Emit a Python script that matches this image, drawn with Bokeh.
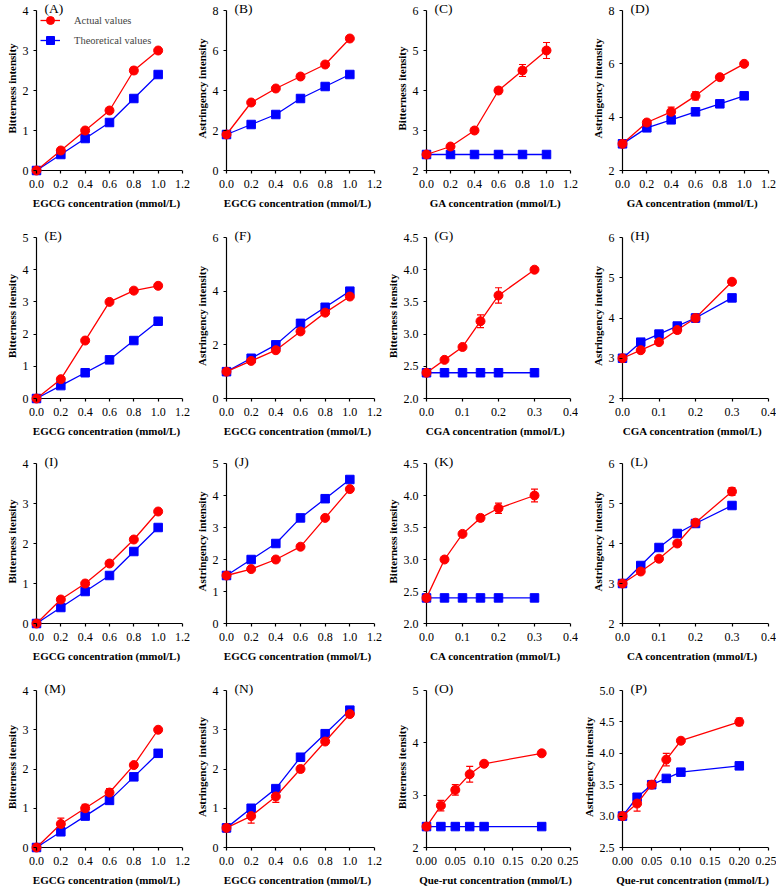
from bokeh.plotting import figure
from bokeh.layouts import gridplot
from bokeh.models import (Range1d, FixedTicker, PrintfTickFormatter, Whisker, TeeHead,
                          ColumnDataSource, Label, Legend, LegendItem)
from bokeh.embed import file_html
from bokeh.resources import INLINE

FONT = "Liberation Serif"
RED = "#FF0000"
BLUE = "#0000FF"

# concentrations
x_egcg = [0.0, 0.2, 0.4, 0.6, 0.8, 1.0]
x_cga = [0.0, 0.05, 0.1, 0.15, 0.2, 0.3]
x_ca = [0.0, 0.05, 0.1, 0.15, 0.2, 0.3]
x_querut = [0.0, 0.025, 0.05, 0.075, 0.1, 0.2]

# tick values
xt_egcg = [0.0, 0.2, 0.4, 0.6, 0.8, 1.0, 1.2]
xt_short = [0.0, 0.1, 0.2, 0.3, 0.4]
xt_querut = [0.0, 0.05, 0.1, 0.15, 0.2, 0.25]

# (A) bitterness, EGCG
A_act = [0.0, 0.5, 1.0, 1.5, 2.5, 3.0]
A_err = [0.0, 0.03, 0.05, 0.05, 0.08, 0.0]
A_theo = [0.0, 0.4, 0.8, 1.2, 1.8, 2.4]
A_yt = [0, 1, 2, 3, 4]
# (B) astringency, EGCG
B_act = [1.8, 3.4, 4.1, 4.7, 5.3, 6.6]
B_err = [0.0, 0.0, 0.0, 0.0, 0.0, 0.0]
B_theo = [1.8, 2.3, 2.8, 3.6, 4.2, 4.8]
B_yt = [0, 2, 4, 6, 8]
# (C) bitterness, GA
C_act = [2.4, 2.6, 3.0, 4.0, 4.5, 5.0]
C_err = [0.0, 0.0, 0.0, 0.08, 0.15, 0.2]
C_theo = [2.4, 2.4, 2.4, 2.4, 2.4, 2.4]
C_yt = [2, 3, 4, 5, 6]
# (D) astringency, GA
D_act = [3.0, 3.8, 4.2, 4.8, 5.5, 6.0]
D_err = [0.0, 0.05, 0.18, 0.15, 0.0, 0.0]
D_theo = [3.0, 3.6, 3.9, 4.2, 4.5, 4.8]
D_yt = [2, 4, 6, 8]
# (E) bitterness, EGCG
E_act = [0.0, 0.6, 1.8, 3.0, 3.35, 3.5]
E_err = [0.0, 0.0, 0.0, 0.0, 0.0, 0.0]
E_theo = [0.0, 0.4, 0.8, 1.2, 1.8, 2.4]
E_yt = [0, 1, 2, 3, 4, 5]
# (F) astringency, EGCG
F_act = [1.0, 1.4, 1.8, 2.5, 3.2, 3.8]
F_err = [0.0, 0.0, 0.0, 0.0, 0.0, 0.0]
F_theo = [1.0, 1.5, 2.0, 2.8, 3.4, 4.0]
F_yt = [0, 2, 4, 6]
# (G) bitterness, CGA
G_act = [2.4, 2.6, 2.8, 3.2, 3.6, 4.0]
G_err = [0.0, 0.0, 0.0, 0.1, 0.12, 0.0]
G_theo = [2.4, 2.4, 2.4, 2.4, 2.4, 2.4]
G_yt = [2.0, 2.5, 3.0, 3.5, 4.0, 4.5]
# (H) astringency, CGA
H_act = [3.0, 3.2, 3.4, 3.7, 4.0, 4.9]
H_err = [0.0, 0.0, 0.0, 0.08, 0.1, 0.0]
H_theo = [3.0, 3.4, 3.6, 3.8, 4.0, 4.5]
H_yt = [2, 3, 4, 5, 6]
# (I) bitterness, EGCG
I_act = [0.0, 0.6, 1.0, 1.5, 2.1, 2.8]
I_err = [0.0, 0.0, 0.0, 0.0, 0.0, 0.0]
I_theo = [0.0, 0.4, 0.8, 1.2, 1.8, 2.4]
I_yt = [0, 1, 2, 3, 4]
# (J) astringency, EGCG
J_act = [1.5, 1.7, 2.0, 2.4, 3.3, 4.2]
J_err = [0.0, 0.0, 0.0, 0.0, 0.0, 0.0]
J_theo = [1.5, 2.0, 2.5, 3.3, 3.9, 4.5]
J_yt = [0, 1, 2, 3, 4, 5]
# (K) bitterness, CA
K_act = [2.4, 3.0, 3.4, 3.65, 3.8, 4.0]
K_err = [0.0, 0.03, 0.03, 0.05, 0.08, 0.1]
K_theo = [2.4, 2.4, 2.4, 2.4, 2.4, 2.4]
K_yt = [2.0, 2.5, 3.0, 3.5, 4.0, 4.5]
# (L) astringency, CA
L_act = [3.0, 3.3, 3.62, 4.0, 4.52, 5.3]
L_err = [0.0, 0.0, 0.0, 0.0, 0.0, 0.1]
L_theo = [3.0, 3.45, 3.9, 4.25, 4.5, 4.95]
L_yt = [2, 3, 4, 5, 6]
# (M) bitterness, EGCG
M_act = [0.0, 0.6, 1.0, 1.4, 2.1, 3.0]
M_err = [0.0, 0.15, 0.1, 0.1, 0.0, 0.0]
M_theo = [0.0, 0.4, 0.8, 1.2, 1.8, 2.4]
M_yt = [0, 1, 2, 3, 4]
# (N) astringency, EGCG
N_act = [0.5, 0.8, 1.3, 2.0, 2.7, 3.4]
N_err = [0.1, 0.18, 0.15, 0.08, 0.05, 0.05]
N_theo = [0.5, 1.0, 1.5, 2.3, 2.9, 3.5]
N_yt = [0, 1, 2, 3, 4]
# (O) bitterness, Que-rut
O_act = [2.4, 2.8, 3.1, 3.4, 3.6, 3.8]
O_err = [0.0, 0.1, 0.1, 0.15, 0.0, 0.0]
O_theo = [2.4, 2.4, 2.4, 2.4, 2.4, 2.4]
O_yt = [2, 3, 4, 5]
# (P) astringency, Que-rut
P_act = [3.0, 3.2, 3.5, 3.9, 4.2, 4.5]
P_err = [0.0, 0.12, 0.05, 0.1, 0.0, 0.06]
P_theo = [3.0, 3.3, 3.5, 3.6, 3.7, 3.8]
P_yt = [2.5, 3.0, 3.5, 4.0, 4.5, 5.0]

BIT = "Bitterness itensity"
AST = "Astringency intensity"
XL_EGCG = "EGCG concentration (mmol/L)"
XL_GA = "GA concentration (mmol/L)"
XL_CGA = "CGA concentration (mmol/L)"
XL_CA = "CA concentration (mmol/L)"
XL_QR = "Que-rut concentration (mmol/L)"

panels = [
    ("(A)", x_egcg, A_act, A_err, A_theo, xt_egcg, "%.1f", A_yt, "%d", XL_EGCG, "Bitterness intensity"),
    ("(B)", x_egcg, B_act, B_err, B_theo, xt_egcg, "%.1f", B_yt, "%d", XL_EGCG, AST),
    ("(C)", x_egcg, C_act, C_err, C_theo, xt_egcg, "%.1f", C_yt, "%d", XL_GA, BIT),
    ("(D)", x_egcg, D_act, D_err, D_theo, xt_egcg, "%.1f", D_yt, "%d", XL_GA, AST),
    ("(E)", x_egcg, E_act, E_err, E_theo, xt_egcg, "%.1f", E_yt, "%d", XL_EGCG, BIT),
    ("(F)", x_egcg, F_act, F_err, F_theo, xt_egcg, "%.1f", F_yt, "%d", XL_EGCG, AST),
    ("(G)", x_cga, G_act, G_err, G_theo, xt_short, "%.1f", G_yt, "%.1f", XL_CGA, BIT),
    ("(H)", x_cga, H_act, H_err, H_theo, xt_short, "%.1f", H_yt, "%d", XL_CGA, AST),
    ("(I)", x_egcg, I_act, I_err, I_theo, xt_egcg, "%.1f", I_yt, "%d", XL_EGCG, BIT),
    ("(J)", x_egcg, J_act, J_err, J_theo, xt_egcg, "%.1f", J_yt, "%d", XL_EGCG, AST),
    ("(K)", x_ca, K_act, K_err, K_theo, xt_short, "%.1f", K_yt, "%.1f", XL_CA, BIT),
    ("(L)", x_ca, L_act, L_err, L_theo, xt_short, "%.1f", L_yt, "%d", XL_CA, AST),
    ("(M)", x_egcg, M_act, M_err, M_theo, xt_egcg, "%.1f", M_yt, "%d", XL_EGCG, BIT),
    ("(N)", x_egcg, N_act, N_err, N_theo, xt_egcg, "%.1f", N_yt, "%d", XL_EGCG, AST),
    ("(O)", x_querut, O_act, O_err, O_theo, xt_querut, "%.2f", O_yt, "%d", XL_QR, BIT),
    ("(P)", x_querut, P_act, P_err, P_theo, xt_querut, "%.2f", P_yt, "%.1f", XL_QR, AST),
]

# layout (pixels)
COL_W = [190, 192, 196, 198]
COL_BL = [30, 30, 38, 38]        # left border per column (room for y labels)
ROW_H = [227, 226, 227, 206]
ROW_HA = [160, 161, 160, 157]    # height of the axis box in each row
BR, BT = 8, 0
PADL, PADT, PADB = 6, 10, 6      # room inside the frame so markers are not clipped
TICK = 3


def make_panel(letter, x, act, err, theo, xt, xfmt, yt, yfmt, xlabel, ylabel,
               col_w, bl, row_h, ha, legend=False):
    fw = col_w - bl - BR
    wa = fw - PADL
    fh = PADT + ha + PADB
    bb = row_h - BT - fh
    x0, x1 = xt[0], xt[-1]
    y0, y1 = yt[0], yt[-1]
    sx = (x1 - x0) / wa
    sy = (y1 - y0) / ha
    p = figure(frame_width=fw, frame_height=fh, output_backend="svg", toolbar_location=None,
               x_range=Range1d(x0 - PADL * sx, x1),
               y_range=Range1d(y0 - PADB * sy, y1 + PADT * sy),
               min_border_left=bl, min_border_right=BR, min_border_top=BT, min_border_bottom=bb)
    p.outline_line_color = None
    p.grid.visible = False
    for ax, ticks, fmt, lab, pad in ((p.xaxis[0], xt, xfmt, xlabel, PADB),
                                     (p.yaxis[0], yt, yfmt, ylabel, PADL)):
        ax.ticker = FixedTicker(ticks=ticks)
        ax.formatter = PrintfTickFormatter(format=fmt)
        ax.axis_label = lab
        ax.axis_line_color = None
        ax.major_tick_line_color = "black"
        ax.major_tick_line_width = 1.2
        ax.major_tick_in = pad
        ax.major_tick_out = TICK - pad
        ax.minor_tick_line_color = None
        ax.major_label_text_font = FONT
        ax.major_label_text_font_size = "12px"
        ax.major_label_text_color = "black"
        ax.axis_label_text_font = FONT
        ax.axis_label_text_font_style = "bold"
        ax.axis_label_text_font_size = "11px"
        ax.axis_label_text_color = "black"
    p.xaxis[0].major_label_standoff = 3
    p.xaxis[0].axis_label_standoff = 6
    p.yaxis[0].major_label_standoff = 2
    p.yaxis[0].axis_label_standoff = 2

    # axis lines meeting at the origin of the tick range
    p.line([x0, x0, x1], [y1, y0, y0], line_color="black", line_width=1.2, line_join="miter")

    lt = p.line(x, theo, line_color=BLUE, line_width=1.3)
    st = p.scatter(x, theo, marker="square", size=8.5, fill_color=BLUE, line_color=BLUE)
    la = p.line(x, act, line_color=RED, line_width=1.3)

    bx = [xi for xi, e in zip(x, err) if e > 0]
    up = [a + e for a, e in zip(act, err) if e > 0]
    lo = [a - e for a, e in zip(act, err) if e > 0]
    if bx:
        src = ColumnDataSource(dict(base=bx, upper=up, lower=lo))
        p.add_layout(Whisker(base="base", upper="upper", lower="lower", source=src,
                             dimension="height", line_color=RED, line_width=1.2,
                             upper_head=TeeHead(size=7, line_color=RED, line_width=1.2),
                             lower_head=TeeHead(size=7, line_color=RED, line_width=1.2)))
    sa = p.scatter(x, act, marker="circle", size=9, fill_color=RED, line_color=RED)

    p.add_layout(Label(x=x0, y=y1, x_offset=8, y_offset=2, text=letter,
                       text_font=FONT, text_font_size="13.5px", text_color="black",
                       text_baseline="middle", text_align="left"))
    if legend:
        leg = Legend(items=[LegendItem(label="Actual values", renderers=[la, sa]),
                            LegendItem(label="Theoretical values", renderers=[lt, st])],
                     location="top_left", border_line_color=None, background_fill_alpha=0,
                     label_text_font=FONT, label_text_font_size="10.5px",
                     glyph_width=20, glyph_height=20, label_height=20,
                     label_standoff=14, spacing=0, padding=4, margin=10)
        p.add_layout(leg)
    return p


figs = [make_panel(*spec, COL_W[i % 4], COL_BL[i % 4], ROW_H[i // 4], ROW_HA[i // 4],
                   legend=(i == 0))
        for i, spec in enumerate(panels)]
rows = [figs[i:i + 4] for i in range(0, 16, 4)]
grid = gridplot(rows, toolbar_location=None)

open("out.html", "w").write(file_html(grid, INLINE))
